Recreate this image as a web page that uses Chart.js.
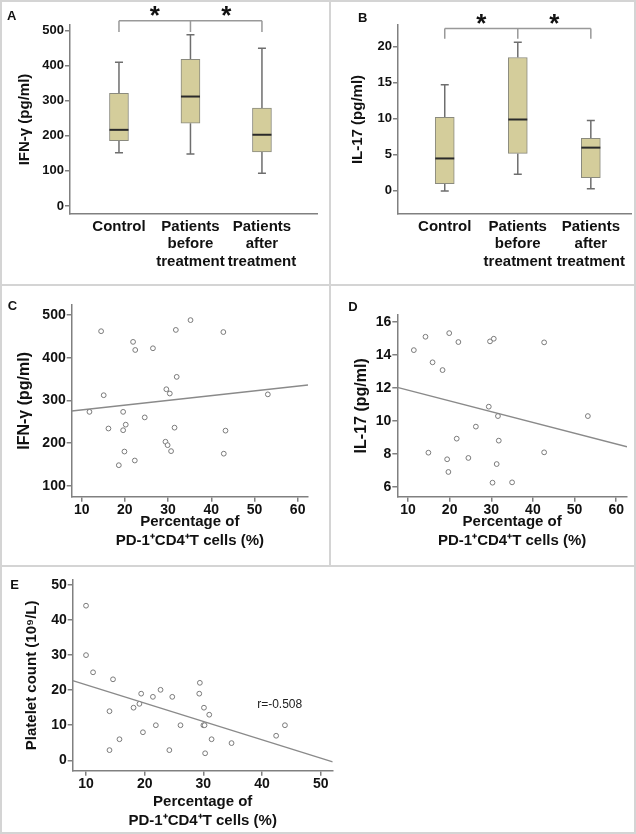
<!DOCTYPE html>
<html>
<head>
<meta charset="utf-8">
<script src="https://cdn.jsdelivr.net/npm/chart.js@4.4.1/dist/chart.umd.min.js"></script>
<style>
  body { margin: 0; background: #fff; }
  #figura { position: relative; width: 636px; height: 834px; overflow: hidden; }
  #figura canvas { position: absolute; }
  .borde { position: absolute; background: #d4d4d4; }
  .letra { position: absolute; font: bold 13px "Liberation Sans", Arial, sans-serif; color: #111; transform: translate(-50%, -50%); }
</style>
</head>
<body>
<div id="figura">
  <canvas id="panelA" width="330" height="285" style="left:0;top:0"></canvas>
  <canvas id="panelB" width="306" height="285" style="left:330px;top:0"></canvas>
  <canvas id="panelC" width="330" height="281" style="left:0;top:285px"></canvas>
  <canvas id="panelD" width="306" height="281" style="left:330px;top:285px"></canvas>
  <canvas id="panelE" width="360" height="267" style="left:0;top:566px"></canvas>

  <!-- marco de la figura -->
  <div class="borde" style="left:0;top:0;width:636px;height:2px"></div>
  <div class="borde" style="left:0;top:832px;width:636px;height:2px"></div>
  <div class="borde" style="left:0;top:0;width:2px;height:834px"></div>
  <div class="borde" style="left:634px;top:0;width:2px;height:834px"></div>
  <div class="borde" style="left:0;top:284px;width:636px;height:2px"></div>
  <div class="borde" style="left:0;top:565px;width:636px;height:2px"></div>
  <div class="borde" style="left:329px;top:0;width:2px;height:566px"></div>

  <div class="letra" style="left:11.7px;top:14.7px">A</div>
  <div class="letra" style="left:362.7px;top:16.7px">B</div>
  <div class="letra" style="left:12.5px;top:304.7px">C</div>
  <div class="letra" style="left:353px;top:306px">D</div>
  <div class="letra" style="left:14.7px;top:584.2px">E</div>
</div>
<script>
// Grupos comunes de los diagramas de caja (A y B)
const grupos = [1, 2, 3];
const etiquetasGrupo = [['Control'], ['Patients', 'before', 'treatment'], ['Patients', 'after', 'treatment']];

// A: IFN-γ (pg/ml)
const ifnMin = [152, 148, 93];
const ifnQ1 = [186, 236, 154];
const ifnMediana = [217, 312, 203];
const ifnQ3 = [321, 418, 279];
const ifnMax = [410, 488, 450];
const ifnTicks = [0, 100, 200, 300, 400, 500];

// B: IL-17 (pg/ml)
const il17Min = [0, 2.3, 0.3];
const il17Q1 = [1.0, 5.2, 1.85];
const il17Mediana = [4.5, 9.9, 6.0];
const il17Q3 = [10.2, 18.5, 7.3];
const il17Max = [14.7, 20.6, 9.75];
const il17Ticks = [0, 5, 10, 15, 20];

// C: porcentaje PD-1+CD4+ vs IFN-γ
const pdC = [11.8, 14.5, 15.1, 16.2, 18.6, 19.6, 19.6, 19.9, 20.2, 21.9, 22.4, 22.3, 24.6, 26.5,
  29.6, 29.4, 29.9, 30.4, 30.7, 31.5, 31.8, 32.0, 35.2, 42.8, 42.9, 43.3, 53.1];
const ifnC = [273, 462, 312, 234, 148, 273, 230, 180, 243, 437, 418, 159, 260, 422,
  326, 203, 195, 316, 181, 236, 465, 355, 488, 460, 175, 229, 314];
const ajusteC = [266.5, 1.113];  // intercepto, pendiente
const ticksC_y = [100, 200, 300, 400, 500];

// D: porcentaje PD-1+CD4+ vs IL-17
const pdD = [11.4, 14.2, 15.9, 14.9, 18.3, 19.9, 19.4, 19.7, 22.1, 21.7, 24.5, 26.3, 29.4, 29.7,
  30.6, 30.3, 31.3, 31.6, 31.8, 35.0, 42.7, 42.7, 53.2];
const il17D = [14.28, 15.09, 13.54, 8.06, 13.07, 15.31, 7.66, 6.89, 14.77, 8.91, 7.74, 9.64, 10.85, 14.81,
  14.97, 6.24, 7.37, 10.28, 8.79, 6.26, 14.75, 8.08, 10.28];
const ajusteD = [12.50, -0.0652];
const ticksD_y = [6, 8, 10, 12, 14, 16];

const ticksCD_x = [10, 20, 30, 40, 50, 60];

// E: porcentaje PD-1+CD4+ vs plaquetas
const pdE = [10, 10, 11.2, 14.6, 14.0, 14.0, 15.7, 18.1, 19.1, 19.4, 19.7, 21.4, 21.9, 22.7,
  24.2, 24.7, 26.1, 29.3, 29.4, 30.1, 30.0, 30.2, 30.3, 31.0, 31.4, 34.8, 42.4, 43.9];
const plaquetasE = [44.1, 30.0, 25.1, 23.1, 14.0, 2.9, 6.0, 15.0, 16.1, 19.0, 8.0, 18.1, 10.0, 20.1,
  2.9, 18.1, 10.0, 19.0, 22.1, 15.0, 10.0, 10.0, 2.0, 13.0, 6.0, 4.9, 7.0, 10.0];
const ajusteE = [26.73, -0.522];
const ticksE_x = [10, 20, 30, 40, 50];
const ticksE_y = [0, 10, 20, 30, 40, 50];
const textoR = 'r=-0.508';

const fuente = "'Liberation Sans', Arial, sans-serif";
const gris = '#808080';
const negro = '#111';

Chart.defaults.font.family = fuente;
Chart.defaults.animation = false;

function escalaY(min, max, ticks, titulo, tamTitulo, padTitulo, ancho, tamTick) {
  return {
    type: 'linear', min: min, max: max,
    afterBuildTicks: s => { s.ticks = ticks.map(v => ({ value: v })); },
    afterFit: s => { s.width = ancho; },
    grid: { display: true, drawOnChartArea: false, drawTicks: true, tickLength: 5, color: gris, lineWidth: 1.5 },
    border: { display: true, color: gris, width: 1.5 },
    ticks: { color: negro, padding: 1, font: { size: tamTick, weight: 'bold' } },
    title: { display: true, text: titulo, color: negro, padding: { top: padTitulo, bottom: 0 },
      font: { size: tamTitulo, weight: 'bold', lineHeight: 1.2 } }
  };
}

// Bigotes, medianas y corchete de significancia de los diagramas de caja
function pluginCajas(d) {
  return {
    id: 'cajas',
    beforeDatasetsDraw(chart) {
      const { ctx, scales: { x, y } } = chart;
      ctx.save();
      ctx.strokeStyle = '#6e6e6e';
      ctx.lineWidth = 1.5;
      grupos.forEach((g, i) => {
        const px = x.getPixelForValue(g);
        ctx.beginPath();
        ctx.moveTo(px, y.getPixelForValue(d.min[i])); ctx.lineTo(px, y.getPixelForValue(d.q1[i]));
        ctx.moveTo(px, y.getPixelForValue(d.q3[i])); ctx.lineTo(px, y.getPixelForValue(d.max[i]));
        ctx.moveTo(px - 4, y.getPixelForValue(d.min[i])); ctx.lineTo(px + 4, y.getPixelForValue(d.min[i]));
        ctx.moveTo(px - 4, y.getPixelForValue(d.max[i])); ctx.lineTo(px + 4, y.getPixelForValue(d.max[i]));
        ctx.stroke();
      });
      ctx.restore();
    },
    afterDatasetsDraw(chart) {
      const { ctx, scales: { x, y } } = chart;
      const barras = chart.getDatasetMeta(0).data;
      ctx.save();
      ctx.strokeStyle = '#2a2a2a';
      ctx.lineWidth = 2;
      grupos.forEach((g, i) => {
        const px = x.getPixelForValue(g);
        const w = barras[i].width / 2;
        const py = y.getPixelForValue(d.mediana[i]);
        ctx.beginPath(); ctx.moveTo(px - w, py); ctx.lineTo(px + w, py); ctx.stroke();
      });
      // corchete
      const yNivel = y.getPixelForValue(d.corchete[0]);
      const yBajo = y.getPixelForValue(d.corchete[1]);
      ctx.strokeStyle = '#999';
      ctx.lineWidth = 1.5;
      ctx.beginPath();
      ctx.moveTo(x.getPixelForValue(grupos[0]), yNivel);
      ctx.lineTo(x.getPixelForValue(grupos[2]), yNivel);
      grupos.forEach(g => {
        ctx.moveTo(x.getPixelForValue(g), yNivel);
        ctx.lineTo(x.getPixelForValue(g), yBajo);
      });
      ctx.stroke();
      ctx.fillStyle = negro;
      ctx.font = 'bold 26px ' + fuente;
      ctx.textAlign = 'center';
      ctx.textBaseline = 'alphabetic';
      [1.5, 2.5].forEach(v => ctx.fillText('*', x.getPixelForValue(v), yNivel + 3));
      ctx.restore();
    }
  };
}

function graficaCajas(id, d) {
  new Chart(document.getElementById(id), {
    type: 'bar',
    data: {
      datasets: [{
        data: grupos.map((g, i) => ({ x: g, y: [d.q1[i], d.q3[i]] })),
        backgroundColor: '#d4cd9b',
        borderColor: '#8a8a7e',
        borderWidth: 1,
        borderSkipped: false,
        barThickness: 19
      }]
    },
    options: {
      responsive: false,
      devicePixelRatio: 1,
      layout: { padding: d.padding },
      plugins: { legend: { display: false }, tooltip: { enabled: false } },
      scales: {
        x: {
          type: 'linear', min: d.xMin, max: d.xMax, offset: false,
          afterBuildTicks: s => { s.ticks = grupos.map(v => ({ value: v })); },
          afterFit: s => { s.height = 60; },
          grid: { display: false, offset: false, drawTicks: false, tickLength: 0 },
          border: { display: true, color: gris, width: 1.5 },
          ticks: {
            autoSkip: false, maxRotation: 0, minRotation: 0, padding: 4, color: negro,
            font: { size: 15, weight: 'bold', lineHeight: 1.17 },
            callback: v => etiquetasGrupo[grupos.indexOf(v)]
          }
        },
        y: escalaY(d.yMin, d.yMax, d.ticks, d.titulo, 15, d.padTitulo, d.anchoY, 13)
      }
    },
    plugins: [pluginCajas(d)]
  });
}

function pluginTexto(t) {
  return {
    id: 'texto',
    afterDatasetsDraw(chart) {
      const { ctx, scales: { x, y } } = chart;
      ctx.save();
      ctx.fillStyle = '#222';
      ctx.font = '12px ' + fuente;
      ctx.textAlign = 'center';
      ctx.textBaseline = 'middle';
      ctx.fillText(t.texto, x.getPixelForValue(t.x), y.getPixelForValue(t.y));
      ctx.restore();
    }
  };
}

function graficaDispersion(id, d) {
  new Chart(document.getElementById(id), {
    type: 'scatter',
    data: {
      datasets: [
        {
          data: d.xs.map((v, i) => ({ x: v, y: d.ys[i] })),
          pointRadius: 2.4, pointBorderWidth: 1,
          pointBorderColor: '#7a7a7a', pointBackgroundColor: '#fff'
        },
        {
          data: [d.xMin, d.xMax].map(v => ({ x: v, y: d.ajuste[0] + d.ajuste[1] * v })),
          showLine: true, pointRadius: 0, borderColor: '#8a8a8a', borderWidth: 1.3
        }
      ]
    },
    options: {
      responsive: false,
      devicePixelRatio: 1,
      layout: { padding: d.padding },
      plugins: { legend: { display: false }, tooltip: { enabled: false } },
      scales: {
        x: {
          type: 'linear', min: d.xMin, max: d.xMax,
          afterBuildTicks: s => { s.ticks = d.ticksX.map(v => ({ value: v })); },
          afterFit: s => { s.height = d.altoX; },
          grid: { display: true, drawOnChartArea: false, drawTicks: true, tickLength: 5, color: gris, lineWidth: 1.5 },
          border: { display: true, color: gris, width: 1.5 },
          ticks: { autoSkip: false, maxRotation: 0, padding: d.padTickX, color: negro, font: { size: 14, weight: 'bold' } },
          title: {
            display: true, text: ['Percentage of', 'PD-1\u207ACD4\u207AT cells (%)'], color: negro,
            padding: { top: 0, bottom: 0 }, font: { size: 15, weight: 'bold', lineHeight: 1.29 }
          }
        },
        y: escalaY(d.yMin, d.yMax, d.ticksY, d.titulo, d.tamTitulo, d.padTitulo, d.anchoY, 14)
      }
    },
    plugins: d.texto ? [pluginTexto(d.texto)] : []
  });
}

graficaCajas('panelA', {
  min: ifnMin, q1: ifnQ1, mediana: ifnMediana, q3: ifnQ3, max: ifnMax, ticks: ifnTicks,
  titulo: 'IFN-\u03B3 (pg/ml)', padTitulo: 16, anchoY: 70,
  xMin: 0.315, xMax: 3.77, yMin: -23, yMax: 516, corchete: [528, 496],
  padding: { top: 25, right: 13, bottom: 11, left: 0 }
});

graficaCajas('panelB', {
  min: il17Min, q1: il17Q1, mediana: il17Mediana, q3: il17Q3, max: il17Max, ticks: il17Ticks,
  titulo: 'IL-17 (pg/ml)', padTitulo: 19, anchoY: 68,
  xMin: 0.36, xMax: 3.55, yMin: -3.2, yMax: 23.0, corchete: [22.5, 21.1],
  padding: { top: 25, right: 5, bottom: 11, left: 0 }
});

graficaDispersion('panelC', {
  xs: pdC, ys: ifnC, ajuste: ajusteC, ticksX: ticksCD_x, ticksY: ticksC_y,
  xMin: 7.69, xMax: 62.4, yMin: 74.2, yMax: 523.4,
  titulo: 'IFN-\u03B3 (pg/ml)', tamTitulo: 16, padTitulo: 15, anchoY: 71.7, altoX: 54.3, padTickX: 0,
  padding: { top: 20, right: 22, bottom: 15, left: 0 }
});

graficaDispersion('panelD', {
  xs: pdD, ys: il17D, ajuste: ajusteD, ticksX: ticksCD_x, ticksY: ticksD_y,
  xMin: 7.43, xMax: 62.6, yMin: 5.39, yMax: 16.41,
  titulo: 'IL-17 (pg/ml)', tamTitulo: 16, padTitulo: 21.7, anchoY: 67.3, altoX: 54.3, padTickX: 0,
  padding: { top: 30, right: 9, bottom: 15, left: 0 }
});

graficaDispersion('panelE', {
  xs: pdE, ys: plaquetasE, ajuste: ajusteE, ticksX: ticksE_x, ticksY: ticksE_y,
  xMin: 7.73, xMax: 52.04, yMin: -2.97, yMax: 51.43,
  titulo: 'Platelet count (10\u2079/L)', tamTitulo: 15, padTitulo: 22.7, anchoY: 72.7, altoX: 60.3, padTickX: 0,
  padding: { top: 14, right: 27.3, bottom: 2, left: 0 },
  texto: { texto: textoR, x: 43, y: 15.8 }
});
</script>
</body>
</html>
